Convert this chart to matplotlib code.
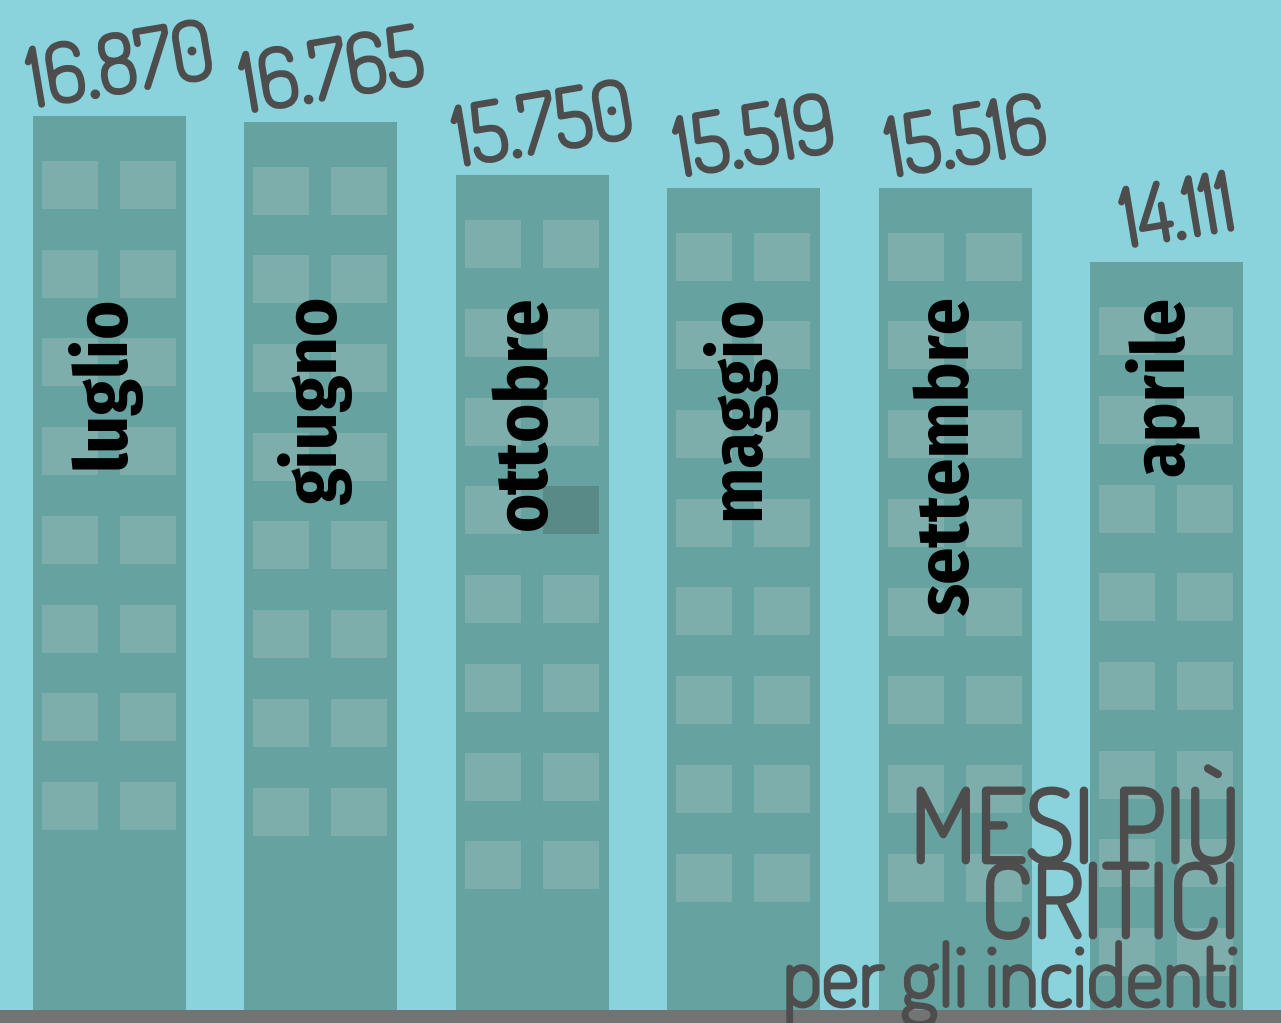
import matplotlib
matplotlib.use("Agg")
import matplotlib.pyplot as plt
from matplotlib import font_manager
from matplotlib.patches import Rectangle
import matplotlib.patheffects as pe

months = ["luglio", "giugno", "ottobre", "maggio", "settembre", "aprile"]
values = [16870, 16765, 15750, 15519, 15516, 14111]
value_labels = ["16.870", "16.765", "15.750", "15.519", "15.516", "14.111"]
title_lines = ["MESI PIÙ", "CRITICI"]
subtitle = "per gli incidenti"

names = {f.name for f in font_manager.fontManager.ttflist}
def pick(*c):
    for n in c:
        if n in names:
            return [n, "DejaVu Sans"]
    return ["DejaVu Sans"]
num_fam = pick("Dosis", "Abel")
lab_fam = pick("Fira Sans Condensed", "Barlow Condensed", "DejaVu Sans")

BG = "#8bd3dc"
BAR = "#66a2a0"
WIN = "#7eaeac"
WIN_DARK = "#5a8a88"
TXT = "#4d4d4d"
FLOOR = "#737373"

W, H = 1281, 1023
fig = plt.figure(figsize=(W / 100, H / 100), dpi=100)
fig.patch.set_facecolor(BG)
floor_px = 13
ax = fig.add_axes([0, floor_px / H, 1, 1 - floor_px / H])
ax.set_facecolor(BG)
fig.patches.append(Rectangle((0, 0), 1, floor_px / H, transform=fig.transFigure,
                             facecolor=FLOOR, edgecolor="none", zorder=1))

step_px = 211.4
first_center_px = 109.5
ax.set_xlim(-first_center_px / step_px, (W - first_center_px) / step_px)
ymax = 19060
ax.set_ylim(0, ymax)
ax.axis("off")

px_x = 1 / step_px
px_y = ymax / (H - floor_px)

bw = 153 * px_x
x = list(range(len(months)))
ax.bar(x, values, width=bw, color=BAR, zorder=1)

# windows
win_w = 56 * px_x
win_h = 48 * px_y
row_step = 88.7 * px_y
first_off = 45 * px_y
col_offsets = [9 * px_x, 87 * px_x]
for i, (xi, v) in enumerate(zip(x, values)):
    left = xi - bw / 2
    for r in range(8):
        top = v - first_off - r * row_step
        for c, co in enumerate(col_offsets):
            col = WIN_DARK if (i == 2 and r == 3 and c == 1) else WIN
            ax.add_patch(Rectangle((left + co, top - win_h), win_w, win_h,
                                   facecolor=col, edgecolor="none", zorder=2))

def thick(lw):
    return [pe.withStroke(linewidth=lw, foreground=TXT)]

# value labels
for xi, v, lab in zip(x, values, value_labels):
    ax.text(xi + 12 * px_x, v + 46 * px_y, lab, rotation=9.5, ha="center", va="center",
            fontsize=58, color=TXT, family=num_fam, zorder=4, path_effects=thick(2.8))

# month labels
for xi, m in zip(x, months):
    ax.text(xi - 6 * px_x, ymax - 296 * px_y, m, rotation=90, ha="center", va="top",
            fontsize=53, fontweight="bold", color="black", family=lab_fam, zorder=4)

# title
fig.text(1240 / W, 1 - 862 / H, title_lines[0], ha="right", va="baseline",
         fontsize=72, color=TXT, family=num_fam, zorder=5, path_effects=thick(3.4))
fig.text(1240 / W, 1 - 937 / H, title_lines[1], ha="right", va="baseline",
         fontsize=72, color=TXT, family=num_fam, zorder=5, path_effects=thick(3.4))
fig.text(1240 / W, 1 - 1006 / H, subtitle, ha="right", va="baseline",
         fontsize=60, color=TXT, family=num_fam, zorder=5, path_effects=thick(2.8))

fig.savefig("out.png", dpi=100, facecolor=BG)
